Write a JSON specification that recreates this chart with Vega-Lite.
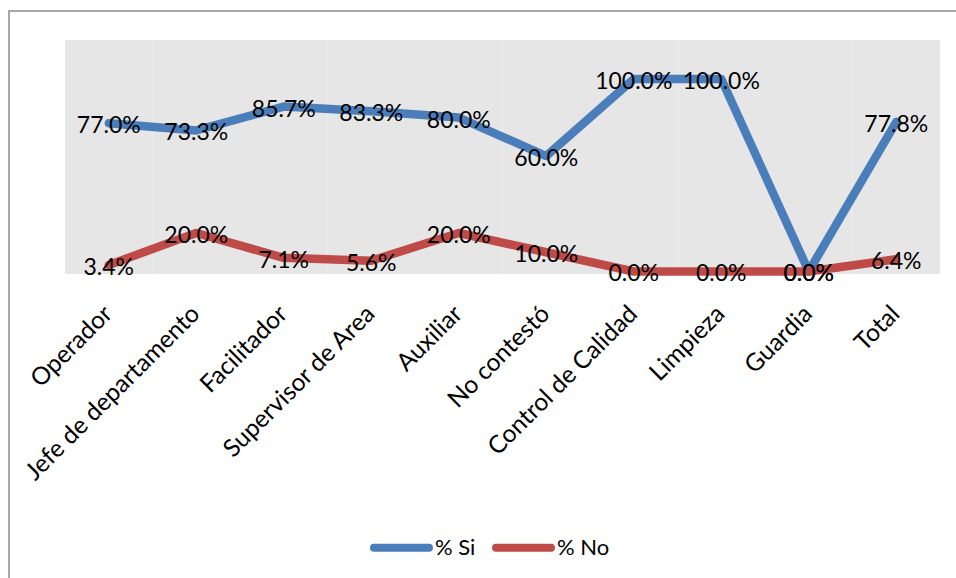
{
  "$schema": "https://vega.github.io/schema/vega-lite/v6.json",
  "width": 948,
  "height": 569,
  "autosize": "none",
  "padding": {"left": 9, "top": 11, "right": 0, "bottom": 0},
  "background": "white",
  "config": {
    "font": "Lato",
    "view": {"stroke": "#8c8c8c", "strokeWidth": 1.5, "fill": "white"}
  },
  "data": {
    "values": [
      {"cat": "Operador", "serie": "% Si", "value": 0.770},
      {"cat": "Jefe de departamento", "serie": "% Si", "value": 0.733},
      {"cat": "Facilitador", "serie": "% Si", "value": 0.857},
      {"cat": "Supervisor de Area", "serie": "% Si", "value": 0.833},
      {"cat": "Auxiliar", "serie": "% Si", "value": 0.800},
      {"cat": "No contestó", "serie": "% Si", "value": 0.600},
      {"cat": "Control de Calidad", "serie": "% Si", "value": 1.000},
      {"cat": "Limpieza", "serie": "% Si", "value": 1.000},
      {"cat": "Guardia", "serie": "% Si", "value": 0.000},
      {"cat": "Total", "serie": "% Si", "value": 0.778},
      {"cat": "Operador", "serie": "% No", "value": 0.034},
      {"cat": "Jefe de departamento", "serie": "% No", "value": 0.200},
      {"cat": "Facilitador", "serie": "% No", "value": 0.071},
      {"cat": "Supervisor de Area", "serie": "% No", "value": 0.056},
      {"cat": "Auxiliar", "serie": "% No", "value": 0.200},
      {"cat": "No contestó", "serie": "% No", "value": 0.100},
      {"cat": "Control de Calidad", "serie": "% No", "value": 0.000},
      {"cat": "Limpieza", "serie": "% No", "value": 0.000},
      {"cat": "Guardia", "serie": "% No", "value": 0.000},
      {"cat": "Total", "serie": "% No", "value": 0.064}
    ]
  },
  "encoding": {
    "x": {
      "field": "cat",
      "type": "nominal",
      "scale": {
        "type": "band",
        "domain": ["Operador", "Jefe de departamento", "Facilitador", "Supervisor de Area", "Auxiliar", "No contestó", "Control de Calidad", "Limpieza", "Guardia", "Total"],
        "range": [56, 931],
        "paddingInner": 0,
        "paddingOuter": 0
      },
      "axis": {
        "orient": "bottom",
        "offset": -306,
        "labelAngle": -45,
        "labelAlign": "right",
        "labelBaseline": "middle",
        "labelFontSize": 24.5,
        "labelColor": "black",
        "labelPadding": 36,
        "labelLimit": 0,
        "ticks": false,
        "domain": false,
        "grid": false,
        "title": null
      }
    }
  },
  "layer": [
    {
      "transform": [{"filter": "datum.serie === '% Si'"}],
      "mark": {"type": "rect", "color": "#e6e6e6"},
      "encoding": {
        "y": {"datum": -0.013, "type": "quantitative", "scale": {"domain": [-0.013, 1.203], "range": [263, 29], "nice": false, "zero": false}, "axis": null},
        "y2": {"datum": 1.203}
      }
    },
    {
      "mark": {"type": "line", "strokeWidth": 8.5, "strokeCap": "round", "strokeJoin": "round"},
      "encoding": {
        "y": {"field": "value", "type": "quantitative", "axis": null},
        "color": {
          "field": "serie",
          "type": "nominal",
          "scale": {"domain": ["% Si", "% No"], "range": ["#4a7ebb", "#be4b48"]},
          "legend": {
            "orient": "none",
            "legendX": 361,
            "legendY": 505,
            "direction": "horizontal",
            "title": null,
            "symbolType": "stroke",
            "symbolStrokeWidth": 8,
            "symbolSize": 3025,
            "labelFontSize": 22,
            "labelColor": "black",
            "labelOffset": 2,
            "columnPadding": 4,
            "padding": 0,
            "encode": {"symbols": {"update": {"strokeCap": {"value": "round"}}}}
          }
        }
      }
    },
    {
      "mark": {"type": "text", "fontSize": 23, "color": "black", "baseline": "middle", "align": "center", "dy": 3},
      "encoding": {
        "y": {"field": "value", "type": "quantitative", "axis": null},
        "text": {"field": "value", "type": "quantitative", "format": ".1%"},
        "detail": {"field": "serie"}
      }
    }
  ]
}
